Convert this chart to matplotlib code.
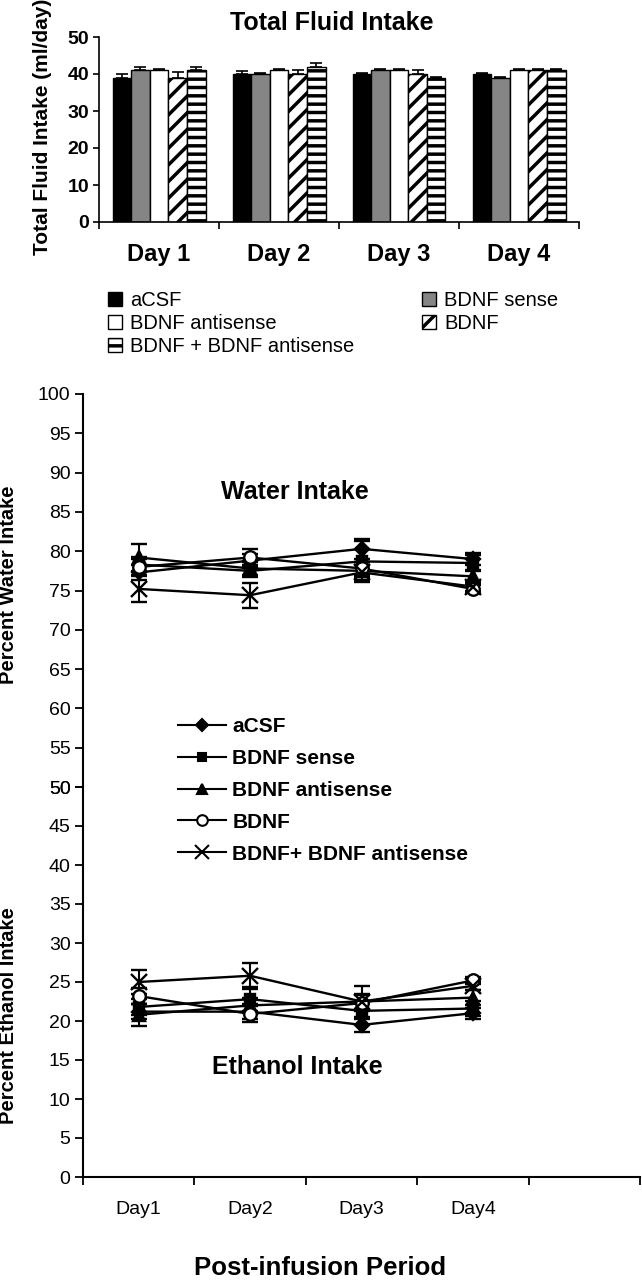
import numpy as np
import matplotlib.pyplot as plt
from matplotlib.lines import Line2D
from matplotlib.patches import Patch

plt.rcParams['font.family'] = ['Liberation Sans', 'DejaVu Sans']
plt.rcParams['hatch.linewidth'] = 2.5
plt.rcParams['hatch.color'] = 'black'

# ---- data: total fluid intake (ml/day) ----
bar_days = ['Day 1', 'Day 2', 'Day 3', 'Day 4']
bar_groups = ['aCSF', 'BDNF sense', 'BDNF antisense', 'BDNF', 'BDNF + BDNF antisense']
fluid_acsf = [39, 40, 40, 40]
fluid_sense = [41, 40, 41, 39]
fluid_anti = [41, 41, 41, 41]
fluid_bdnf = [39, 40, 40, 41]
fluid_combo = [41, 42, 39, 41]
fluid_acsf_err = [1.0, 0.9, 0.3, 0.4]
fluid_sense_err = [1.0, 0.4, 0.3, 0.3]
fluid_anti_err = [0.3, 0.3, 0.3, 0.3]
fluid_bdnf_err = [1.5, 1.0, 1.0, 0.3]
fluid_combo_err = [0.9, 0.9, 0.3, 0.3]

# ---- data: percent water / ethanol intake ----
line_days = ['Day1', 'Day2', 'Day3', 'Day4']
line_groups = ['aCSF', 'BDNF sense', 'BDNF antisense', 'BDNF', 'BDNF+ BDNF antisense']
water_acsf = [77.3, 78.8, 80.3, 79.0]
water_sense = [78.3, 77.5, 78.7, 78.5]
water_anti = [79.2, 77.8, 77.5, 76.8]
water_bdnf = [78.0, 79.2, 77.8, 75.2]
water_combo = [75.2, 74.4, 77.3, 75.5]
water_acsf_err = [1.0, 0.9, 1.3, 0.8]
water_sense_err = [1.0, 0.8, 2.6, 1.0]
water_anti_err = [1.7, 0.8, 0.8, 0.8]
water_bdnf_err = [1.0, 1.1, 0.8, 0.5]
water_combo_err = [1.6, 1.6, 1.0, 0.6]

ethanol_acsf = [21.2, 21.2, 19.5, 21.0]
ethanol_sense = [21.8, 22.8, 21.3, 21.6]
ethanol_anti = [20.8, 22.0, 22.5, 23.0]
ethanol_bdnf = [23.2, 20.9, 22.3, 25.2]
ethanol_combo = [25.0, 25.8, 22.5, 24.5]
ethanol_acsf_err = [1.0, 1.0, 0.9, 0.7]
ethanol_sense_err = [1.0, 1.5, 1.0, 1.0]
ethanol_anti_err = [1.4, 1.0, 1.0, 1.0]
ethanol_bdnf_err = [1.0, 1.0, 1.0, 0.5]
ethanol_combo_err = [1.5, 1.7, 2.0, 0.5]

W, H = 642, 1280
fig = plt.figure(figsize=(W / 100, H / 100), dpi=100)


def rect(l, t, r, b):
    # pixel box -> figure fraction
    return [l / W, 1 - b / H, (r - l) / W, (b - t) / H]


# ================= bar chart =================
ax = fig.add_axes(rect(99, 37, 579, 222))
x = np.arange(4)
bw = 0.155
bar_means = [fluid_acsf, fluid_sense, fluid_anti, fluid_bdnf, fluid_combo]
bar_errs = [fluid_acsf_err, fluid_sense_err, fluid_anti_err, fluid_bdnf_err, fluid_combo_err]
bar_styles = [dict(color='black'), dict(color='#858585'), dict(color='white'),
              dict(color='white', hatch='//'), dict(color='white', hatch='--')]
bar_handles = []
for i, (m, e, st) in enumerate(zip(bar_means, bar_errs, bar_styles)):
    pos = x + (i - 2) * bw
    ax.bar(pos, m, width=bw, facecolor=st['color'], edgecolor='black',
           linewidth=1.0, hatch=st.get('hatch'), zorder=2)
    ax.errorbar(pos, m, yerr=[np.zeros(4), e], fmt='none', ecolor='black',
                elinewidth=1.2, capsize=4, capthick=1.2, zorder=3)
    bar_handles.append(Patch(facecolor=st['color'], edgecolor='black',
                             hatch=st.get('hatch'), linewidth=1.0))

ax.set_xlim(-0.5, 3.5)
ax.set_ylim(0, 50)
ax.set_yticks(range(0, 51, 10))
ax.set_xticks(np.arange(-0.5, 3.6, 1))
ax.set_xticklabels([])
ax.set_xticks(x, minor=True)
ax.set_xticklabels(bar_days, minor=True, fontsize=17, fontweight='bold')
ax.tick_params(axis='x', which='minor', length=0, pad=15)
ax.tick_params(axis='x', which='major', length=5, width=1.2, direction='out')
ax.tick_params(axis='y', length=4, width=1.2, pad=3)
for lb in ax.get_yticklabels():
    lb.set_fontsize(14)
    lb.set_fontweight('bold')
for s in ['top', 'right']:
    ax.spines[s].set_visible(False)
for s in ['left', 'bottom']:
    ax.spines[s].set_linewidth(1.2)
fig.text(332 / W, 1 - 23 / H, 'Total Fluid Intake', ha='center', va='center',
         fontsize=18, fontweight='bold')
fig.text(43 / W, 1 - 127 / H, 'Total Fluid Intake (ml/day)', rotation=90,
         ha='center', va='center', fontsize=15, fontweight='bold')

leg_kw = dict(frameon=False, fontsize=14.5, handlelength=0.7, handleheight=0.7,
              handletextpad=0.4, labelspacing=0.2, borderpad=0, borderaxespad=0,
              loc='upper left')
fig.legend([bar_handles[0], bar_handles[2], bar_handles[4]],
           [bar_groups[0], bar_groups[2], bar_groups[4]],
           bbox_to_anchor=(108 / W, 1 - 291 / H), **leg_kw)
fig.legend([bar_handles[1], bar_handles[3]], [bar_groups[1], bar_groups[3]],
           bbox_to_anchor=(422 / W, 1 - 291 / H), **leg_kw)

# ================= line charts =================
ax_w = fig.add_axes(rect(83, 394, 640, 787))
ax_e = fig.add_axes(rect(83, 787, 640, 1177))
xl = np.arange(4) + 0.5
markers = [dict(marker='D', ms=7, mfc='black'),
           dict(marker='s', ms=7, mfc='black'),
           dict(marker='^', ms=8, mfc='black'),
           dict(marker='o', ms=9, mfc='white'),
           dict(marker='x', ms=12, mfc='black')]
water = [water_acsf, water_sense, water_anti, water_bdnf, water_combo]
water_err = [water_acsf_err, water_sense_err, water_anti_err, water_bdnf_err, water_combo_err]
ethanol = [ethanol_acsf, ethanol_sense, ethanol_anti, ethanol_bdnf, ethanol_combo]
ethanol_err = [ethanol_acsf_err, ethanol_sense_err, ethanol_anti_err, ethanol_bdnf_err,
               ethanol_combo_err]

for a, series, errs in [(ax_w, water, water_err), (ax_e, ethanol, ethanol_err)]:
    for s, e, mk in zip(series, errs, markers):
        a.errorbar(xl, s, yerr=e, color='black', lw=1.7, elinewidth=1.5,
                   capsize=6, capthick=1.5, mec='black', mew=1.7, clip_on=False, **mk)
    a.set_xlim(0, 5)
    for sp in ['top', 'right']:
        a.spines[sp].set_visible(False)
    a.spines['left'].set_linewidth(1.5)
    a.tick_params(axis='y', length=6, width=1.3, pad=3, labelsize=14)

ax_w.set_ylim(50, 100)
ax_w.set_yticks(range(50, 101, 5))
ax_w.spines['bottom'].set_visible(False)
ax_w.set_xticks([])

ax_e.set_ylim(0, 50)
ax_e.set_yticks(range(0, 51, 5))
ax_e.spines['bottom'].set_linewidth(1.5)
ax_e.set_xticks(range(0, 6))
ax_e.set_xticklabels([])
ax_e.set_xticks(xl, minor=True)
ax_e.set_xticklabels(line_days, minor=True, fontsize=14)
ax_e.tick_params(axis='x', which='minor', length=0, pad=17)
ax_e.tick_params(axis='x', which='major', length=6, width=1.3)

fig.text(295 / W, 1 - 492 / H, 'Water Intake', ha='center', va='center',
         fontsize=18, fontweight='bold')
fig.text(297 / W, 1 - 1067 / H, 'Ethanol Intake', ha='center', va='center',
         fontsize=18, fontweight='bold')
fig.text(9 / W, 1 - 585 / H, 'Percent Water Intake', rotation=90, ha='center',
         va='center', fontsize=14.5, fontweight='bold')
fig.text(9 / W, 1 - 1016 / H, 'Percent Ethanol Intake', rotation=90, ha='center',
         va='center', fontsize=14.5, fontweight='bold')
fig.text(320 / W, 1 - 1268 / H, 'Post-infusion Period', ha='center', va='center',
         fontsize=18.5, fontweight='bold')

line_handles = []
for mk in markers:
    d = dict(mk)
    d['ms'] = d['ms'] * 0.85
    line_handles.append(Line2D([], [], color='black', lw=1.5, mec='black', mew=1.5, **d))
fig.legend(line_handles, line_groups, frameon=False, loc='upper left',
           bbox_to_anchor=(178 / W, 1 - 717 / H), borderpad=0, borderaxespad=0,
           handlelength=2.3, handletextpad=0.3, labelspacing=0.62,
           prop=dict(size=15, weight='bold'))

fig.savefig('out.png', dpi=100)
